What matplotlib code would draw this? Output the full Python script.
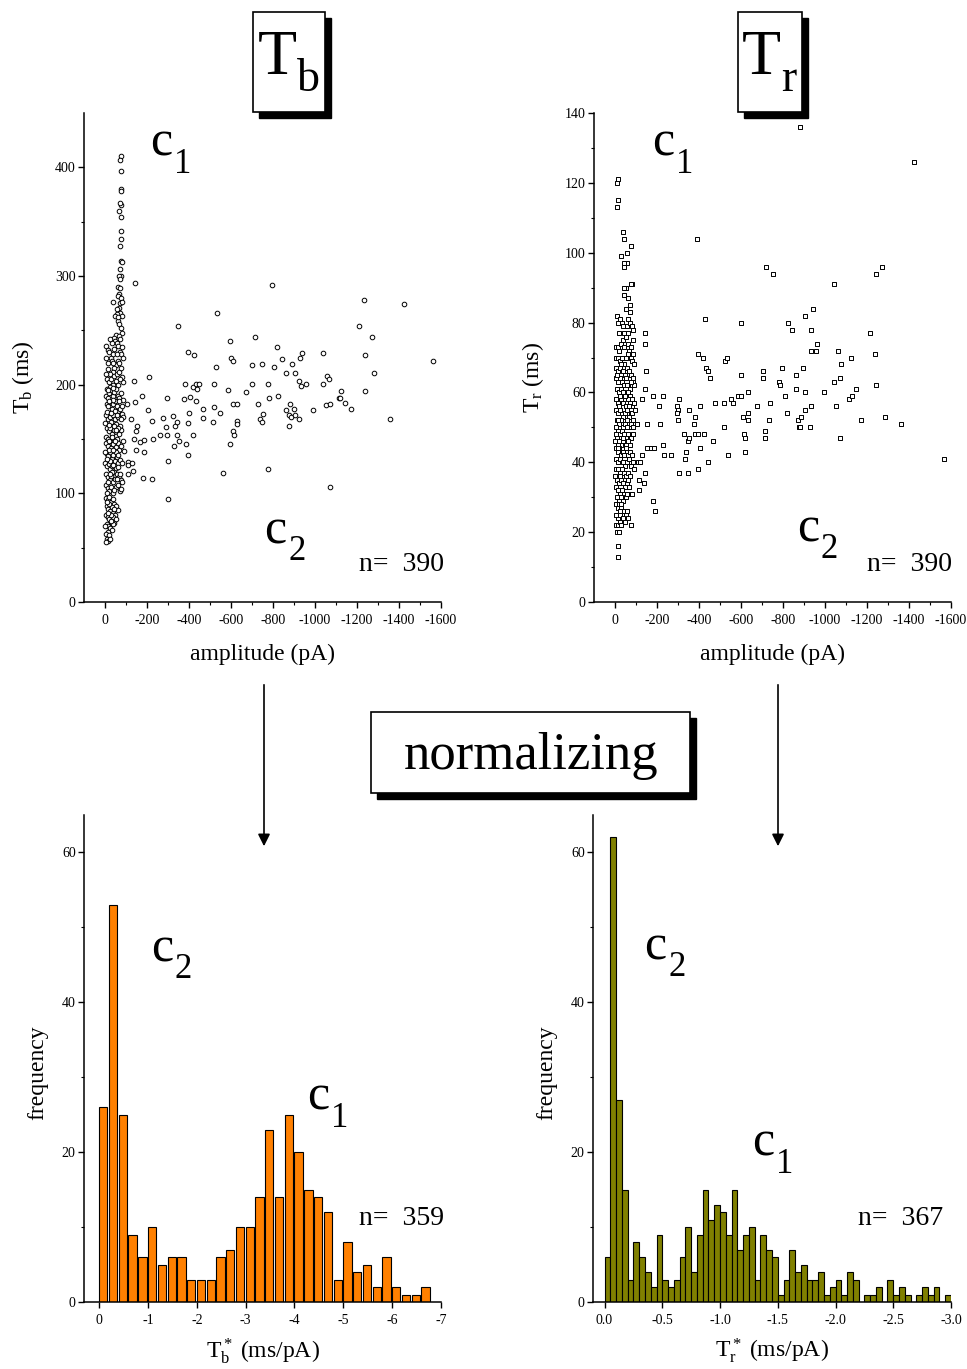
import numpy as np
import matplotlib
matplotlib.use("Agg")
import matplotlib.pyplot as plt
from matplotlib.patches import Rectangle

plt.rcParams['font.family'] = ['Liberation Serif', 'DejaVu Serif']
plt.rcParams['mathtext.fontset'] = 'custom'
plt.rcParams['mathtext.rm'] = 'Liberation Serif'
plt.rcParams['mathtext.it'] = 'Liberation Serif:italic'
plt.rcParams['mathtext.bf'] = 'Liberation Serif:bold'
plt.rcParams['axes.unicode_minus'] = False

# --- T_b vs amplitude (pA, ms) ---
tb_tail = [(-75, 410), (-73, 407), (-74, 397), (-77, 380), (-75, 378), (-78, 365), (-72, 367),
           (-68, 360), (-74, 354), (-75, 341), (-74, 334), (-71, 328), (-76, 314), (-79, 313),
           (-73, 306), (-77, 300), (-68, 300), (-72, 297), (-63, 290), (-72, 289), (-68, 283),
           (-62, 282), (-75, 280), (-70, 275), (-79, 276), (-36, 276), (-68, 271), (-73, 266),
           (-55, 265), (-48, 263), (-80, 263), (-60, 259), (-68, 256), (-75, 252), (-80, 248),
           (-51, 246), (-45, 243), (-62, 262), (-56, 270), (-65, 245)]
tb_upper = [(-7, 236), (-12, 232), (-20, 230), (-28, 225), (-33, 222), (-40, 228), (-48, 240),
            (-55, 238), (-63, 236), (-70, 230), (-78, 228), (-85, 225), (-60, 222), (-52, 218),
            (-44, 215), (-36, 212), (-26, 210), (-15, 214), (-5, 210), (-8, 205), (-18, 202),
            (-30, 205), (-42, 208), (-58, 210), (-66, 212), (-74, 215), (-82, 207), (-88, 202),
            (-50, 203), (-38, 200), (-22, 198), (-10, 196), (-62, 200), (-70, 205), (-45, 233),
            (-35, 238), (-25, 242), (-58, 228), (-80, 235), (-15, 220), (-3, 225), (-65, 220),
            (-72, 242), (-40, 220)]
tb_mid = [(-5, 190), (-12, 188), (-20, 192), (-28, 195), (-36, 190), (-44, 193), (-52, 196),
          (-60, 190), (-68, 188), (-76, 192), (-84, 186), (-8, 182), (-16, 180), (-24, 184),
          (-32, 178), (-40, 182), (-48, 185), (-56, 180), (-64, 176), (-72, 178), (-80, 173),
          (-88, 170), (-4, 172), (-14, 168), (-22, 170), (-30, 166), (-38, 172), (-46, 168),
          (-54, 164), (-62, 170), (-70, 162), (-78, 158), (-10, 160), (-18, 157), (-26, 160),
          (-34, 155), (-42, 158), (-50, 153), (-58, 150), (-66, 155), (-6, 152), (-14, 150),
          (-24, 148), (-32, 152), (-2, 165), (-9, 175), (-40, 197), (-48, 176), (-55, 172),
          (-60, 160), (-20, 163), (-44, 162), (-36, 186), (-28, 174), (-12, 195), (-80, 180),
          (-74, 168), (-66, 185), (-17, 185), (-52, 158)]
tb_low = [(-4, 146), (-12, 144), (-20, 148), (-28, 142), (-36, 145), (-44, 140), (-52, 143),
          (-60, 146), (-68, 140), (-76, 144), (-84, 148), (-8, 136), (-16, 134), (-24, 138),
          (-32, 132), (-40, 135), (-48, 130), (-56, 133), (-64, 128), (-72, 131), (-80, 128),
          (-2, 128), (-10, 125), (-18, 127), (-26, 122), (-34, 125), (-42, 120), (-50, 123),
          (-58, 118), (-66, 115), (-74, 112), (-82, 110), (-6, 118), (-14, 115), (-22, 112),
          (-30, 116), (-38, 110), (-46, 113), (-54, 106), (-62, 108), (-70, 102), (-78, 104),
          (-4, 108), (-12, 105), (-20, 102), (-28, 106), (-36, 100), (-44, 103), (-8, 100),
          (-16, 110), (-26, 130), (-40, 126), (-50, 138), (-32, 120), (-60, 124), (-18, 140),
          (-56, 113), (-2, 138), (-70, 118), (-10, 132), (-46, 148), (-64, 135), (-24, 118),
          (-36, 140)]
tb_bottom = [(-4, 96), (-12, 94), (-20, 97), (-28, 92), (-36, 95), (-44, 90), (-52, 88), (-60, 85),
             (-8, 88), (-16, 86), (-24, 84), (-32, 87), (-40, 82), (-48, 80), (-4, 80), (-12, 78),
             (-20, 76), (-28, 74), (-36, 78), (-44, 73), (-8, 72), (-16, 70), (-24, 68), (-32, 66),
             (-12, 64), (-4, 63), (-20, 62), (-8, 58), (-16, 56), (-6, 55), (-28, 80), (-36, 72),
             (-18, 90), (-50, 76), (-10, 92), (-42, 86), (-2, 70), (-24, 58), (-30, 75), (-14, 82)]
tb_spread = [(-141, 294), (-138, 203), (-141, 184), (-103, 182), (-122, 168), (-175, 190),
             (-151, 162), (-146, 157), (-138, 150), (-146, 140), (-165, 147), (-187, 149),
             (-186, 138), (-92, 139), (-110, 129), (-110, 126), (-127, 128), (-135, 121),
             (-110, 118), (-179, 114), (-225, 113), (-203, 177), (-210, 207), (-222, 167),
             (-230, 150), (-262, 154), (-276, 169), (-294, 188), (-290, 161), (-294, 154),
             (-302, 130), (-302, 95), (-325, 171), (-332, 162), (-343, 166), (-341, 154),
             (-330, 144), (-351, 148), (-348, 254), (-375, 187), (-383, 201), (-387, 145),
             (-394, 135), (-394, 165), (-397, 230), (-403, 189), (-400, 174), (-417, 198),
             (-425, 227), (-417, 154), (-432, 201), (-438, 196), (-448, 201), (-435, 185),
             (-467, 178), (-465, 169), (-517, 201), (-519, 179), (-516, 166), (-530, 216),
             (-535, 266), (-549, 174), (-560, 119), (-586, 195), (-595, 240), (-594, 145),
             (-600, 225), (-611, 222), (-610, 182), (-611, 157), (-613, 154), (-630, 182),
             (-629, 167), (-630, 164), (-671, 193), (-700, 201), (-700, 218), (-714, 244),
             (-727, 182), (-737, 168), (-748, 219), (-749, 166), (-754, 173), (-778, 122),
             (-776, 201), (-781, 188), (-794, 292), (-806, 216), (-819, 235), (-824, 190),
             (-841, 224), (-862, 211), (-860, 177), (-875, 162), (-875, 172), (-881, 182),
             (-886, 170), (-892, 219), (-900, 178), (-903, 211), (-906, 172), (-924, 168),
             (-925, 203), (-929, 225), (-938, 229), (-935, 199), (-956, 201), (-989, 177),
             (-1037, 229), (-1038, 201), (-1051, 181), (-1057, 208), (-1068, 205), (-1071, 182),
             (-1073, 106), (-1114, 188), (-1122, 194), (-1121, 188), (-1143, 183), (-1170, 178),
             (-1210, 254), (-1235, 278), (-1237, 227), (-1237, 194), (-1270, 244), (-1283, 211),
             (-1359, 168), (-1424, 274), (-1563, 222)]

# --- T_r vs amplitude (pA, ms) ---
tr_top = [(-12, 121), (-10, 120), (-14, 115), (-10, 113), (-40, 106), (-45, 104), (-78, 102),
          (-55, 100), (-28, 99), (-55, 97), (-42, 96), (-45, 97), (-80, 91), (-75, 91), (-50, 90),
          (-42, 90), (-62, 87), (-42, 88), (-70, 85), (-50, 84), (-72, 83), (-60, 81), (-10, 82),
          (-15, 80), (-22, 81), (-35, 80), (-40, 79), (-55, 79), (-72, 80), (-82, 79), (-85, 78)]
tr_upper = [(-5, 73), (-12, 73), (-20, 72), (-28, 74), (-36, 75), (-44, 73), (-52, 76), (-60, 74),
            (-68, 72), (-76, 73), (-84, 75), (-4, 70), (-14, 70), (-24, 69), (-34, 70), (-44, 68),
            (-54, 70), (-64, 71), (-74, 70), (-82, 69), (-90, 68), (-6, 67), (-16, 66), (-26, 67),
            (-38, 66), (-48, 65), (-58, 67), (-68, 66), (-78, 65), (-88, 64), (-4, 64), (-12, 63),
            (-22, 64), (-32, 63), (-42, 62), (-52, 64), (-62, 62), (-72, 61), (-84, 63), (-92, 62),
            (-8, 61), (-18, 60), (-28, 61), (-40, 60), (-50, 59), (-60, 60), (-70, 59), (-80, 58),
            (-20, 77), (-44, 77), (-64, 77), (-30, 68), (-10, 65), (-56, 62), (-86, 71), (-36, 60),
            (-76, 63)]
tr_mid = [(-4, 58), (-12, 57), (-20, 56), (-30, 58), (-40, 57), (-50, 56), (-60, 58), (-70, 57),
          (-80, 56), (-90, 57), (-6, 55), (-16, 54), (-26, 55), (-36, 53), (-46, 54), (-56, 55),
          (-66, 53), (-76, 54), (-86, 52), (-8, 52), (-18, 51), (-28, 52), (-38, 50), (-48, 51),
          (-58, 52), (-68, 50), (-78, 51), (-88, 50), (-4, 50), (-14, 49), (-24, 48), (-34, 49),
          (-44, 48), (-54, 47), (-64, 48), (-74, 47), (-84, 48), (-10, 47), (-20, 46), (-30, 45),
          (-40, 46), (-50, 45), (-60, 46), (-70, 45), (-2, 46), (-12, 45), (-26, 59), (-46, 59),
          (-66, 56), (-36, 47), (-56, 50), (-6, 48), (-82, 54), (-16, 52), (-94, 55)]
tr_low = [(-4, 44), (-12, 43), (-20, 44), (-30, 42), (-40, 43), (-50, 44), (-60, 42), (-70, 43),
          (-80, 42), (-6, 41), (-16, 40), (-26, 41), (-36, 40), (-46, 39), (-56, 40), (-66, 41),
          (-76, 39), (-86, 40), (-4, 38), (-12, 38), (-22, 37), (-32, 38), (-42, 37), (-52, 36),
          (-62, 37), (-72, 36), (-2, 36), (-10, 35), (-18, 34), (-28, 35), (-38, 34), (-48, 33),
          (-58, 34), (-68, 33), (-78, 31), (-82, 31), (-4, 33), (-14, 32), (-24, 31), (-34, 32),
          (-44, 31), (-54, 30), (-8, 30), (-20, 29), (-30, 30), (-64, 35), (-90, 38), (-26, 36),
          (-58, 31), (-16, 44), (-42, 42)]
tr_bottom = [(-4, 28), (-12, 27), (-20, 28), (-30, 27), (-40, 26), (-50, 25), (-60, 24), (-8, 25),
             (-16, 24), (-26, 25), (-36, 24), (-46, 23), (-6, 22), (-14, 22), (-22, 23), (-30, 22),
             (-75, 22), (-10, 20), (-18, 20), (-14, 16), (-16, 13), (-40, 29), (-56, 26), (-24, 26),
             (-4, 25), (-30, 28)]
tr_spread = [(-883, 136), (-1426, 126), (-391, 104), (-718, 96), (-750, 94), (-1273, 96),
             (-1241, 94), (-1044, 91), (-428, 81), (-599, 80), (-826, 80), (-843, 78), (-906, 82),
             (-943, 84), (-931, 78), (-963, 74), (-934, 72), (-955, 72), (-1212, 77), (-1239, 71),
             (-1060, 72), (-1075, 68), (-1125, 70), (-143, 77), (-143, 74), (-149, 66), (-143, 61),
             (-396, 71), (-418, 70), (-433, 67), (-441, 66), (-452, 64), (-523, 69), (-534, 70),
             (-602, 65), (-705, 66), (-704, 64), (-797, 67), (-781, 63), (-784, 62), (-864, 65),
             (-895, 67), (-864, 61), (-906, 60), (-994, 60), (-1044, 63), (-1071, 64), (-1146, 61),
             (-1241, 62), (-128, 58), (-179, 59), (-227, 59), (-209, 56), (-304, 58), (-296, 56),
             (-298, 55), (-296, 54), (-353, 55), (-404, 56), (-474, 57), (-518, 57), (-552, 58),
             (-564, 57), (-585, 59), (-599, 59), (-632, 60), (-674, 56), (-739, 57), (-811, 59),
             (-819, 54), (-906, 55), (-935, 56), (-1053, 56), (-1116, 58), (-1128, 59), (-154, 51),
             (-216, 51), (-298, 52), (-382, 53), (-377, 51), (-518, 50), (-611, 53), (-632, 54),
             (-634, 52), (-731, 52), (-870, 52), (-876, 50), (-884, 53), (-881, 50), (-927, 50),
             (-1173, 52), (-1287, 53), (-1363, 51), (-328, 48), (-347, 46), (-353, 47), (-382, 48),
             (-396, 48), (-423, 48), (-469, 46), (-613, 48), (-618, 47), (-713, 49), (-713, 47),
             (-1070, 47), (-151, 44), (-173, 44), (-187, 44), (-228, 45), (-235, 42), (-266, 42),
             (-336, 43), (-333, 41), (-406, 44), (-441, 40), (-540, 42), (-618, 43), (-1567, 41),
             (-306, 37), (-347, 37), (-395, 38), (-182, 29), (-192, 26), (-130, 42), (-111, 40),
             (-120, 40), (-114, 35), (-136, 34), (-143, 37), (-113, 32), (-106, 51)]

# --- normalized histograms ---
tb_norm_bin_width = 0.2
tb_norm_counts = [26, 53, 25, 9, 6, 10, 5, 6, 6, 3, 3, 3, 6, 7, 10, 10, 14, 23, 14, 25,
                  20, 15, 14, 12, 3, 8, 4, 5, 2, 6, 2, 1, 1, 2]
tr_norm_bin_width = 0.05
tr_norm_counts = [6, 62, 27, 15, 3, 8, 6, 4, 2, 9, 3, 2, 3, 6, 10, 4, 9, 15, 11, 13,
                  12, 9, 15, 7, 9, 10, 3, 9, 7, 6, 1, 3, 7, 4, 5, 3, 3, 4, 1, 2,
                  3, 1, 4, 3, 0, 1, 1, 2, 0, 3, 1, 2, 1, 0, 1, 2, 1, 2, 0, 1]

W, H = 967, 1369
fig = plt.figure(figsize=(W / 100, H / 100), dpi=100)


def ax_px(left, right, top, bottom):
    return fig.add_axes([left / W, 1 - bottom / H, (right - left) / W, (bottom - top) / H])


def style(ax):
    for s in ['top', 'right']:
        ax.spines[s].set_visible(False)
    for s in ['left', 'bottom']:
        ax.spines[s].set_linewidth(1.1)
    ax.tick_params(which='major', direction='out', length=4, width=1.0, labelsize=10, pad=2)
    ax.tick_params(axis='x', which='major', pad=5)
    ax.tick_params(which='minor', direction='out', length=2.5, width=0.8)


ax1 = ax_px(84, 441, 113, 602)
ax2 = ax_px(594, 951, 113, 602)
ax3 = ax_px(84, 441, 815, 1302)
ax4 = ax_px(593, 951, 815, 1302)

# scatter plots
tb_all = np.array(tb_tail + tb_upper + tb_mid + tb_low + tb_bottom + tb_spread)
ax1.scatter(tb_all[:, 0], tb_all[:, 1], s=11, marker='o', facecolors='white',
            edgecolors='black', linewidths=0.7, clip_on=False)
tr_all = np.array(tr_top + tr_upper + tr_mid + tr_low + tr_bottom + tr_spread)
ax2.scatter(tr_all[:, 0], tr_all[:, 1], s=10, marker='s', facecolors='white',
            edgecolors='black', linewidths=0.7, clip_on=False)

amp_ticks = np.arange(0, -1601, -200)
for ax, ymax, ystep, ylab in [(ax1, 450, 100, r'T$_\mathrm{b}$ (ms)'),
                              (ax2, 140, 20, r'T$_\mathrm{r}$ (ms)')]:
    style(ax)
    ax.set_xlim(100, -1600)
    ax.set_ylim(0, ymax)
    ax.set_xticks(amp_ticks, labels=[f"{v:g}" for v in amp_ticks])
    ax.set_xticks(np.arange(-100, -1601, -200), minor=True)
    yt = np.arange(0, ymax + 1, ystep)
    ax.set_yticks(yt, labels=[f"{v:g}" for v in yt])
    ax.set_yticks(np.arange(ystep / 2, ymax, ystep), minor=True)
    ax.set_xlabel('amplitude (pA)', fontsize=17)
    ax.xaxis.set_label_coords(0.5, -0.085)
    ax.set_ylabel(ylab, fontsize=17)
    ax.yaxis.set_label_coords(-0.135, 0.46)

# histograms
tb_edges = -tb_norm_bin_width * np.arange(len(tb_norm_counts))
ax3.bar(tb_edges, tb_norm_counts, width=-0.17, align='edge', color='#ff8000',
        edgecolor='black', linewidth=0.8)
tr_edges = -tr_norm_bin_width * np.arange(len(tr_norm_counts))
ax4.bar(tr_edges, tr_norm_counts, width=-tr_norm_bin_width, align='edge', color='#808000',
        edgecolor='black', linewidth=0.8)

hist_y = np.arange(0, 61, 20)
style(ax3)
ax3.set_xlim(0.31, -7)
ax3.set_ylim(0, 65)
tb_x = np.arange(0, -8, -1)
ax3.set_xticks(tb_x, labels=[f"{v:g}" for v in tb_x])
ax3.set_xlabel(r'T$_\mathrm{b}^*$ (ms/pA)', fontsize=17)

style(ax4)
ax4.set_xlim(0.1, -3.0)
ax4.set_ylim(0, 65)
tr_x = np.arange(0, -3.01, -0.5)
ax4.set_xticks(tr_x, labels=[f"{v:.1f}" for v in tr_x])
ax4.set_xlabel(r'T$_\mathrm{r}^*$ (ms/pA)', fontsize=17)

for ax in (ax3, ax4):
    ax.set_yticks(hist_y, labels=[f"{v:g}" for v in hist_y])
    ax.set_yticks(np.arange(10, 61, 20), minor=True)
    ax.xaxis.set_label_coords(0.5, -0.07)
    ax.set_ylabel('frequency', fontsize=17)
    ax.yaxis.set_label_coords(-0.1, 0.47)

# overlay in pixel coordinates for boxes, arrows and annotations
ov = fig.add_axes([0, 0, 1, 1], zorder=10)
ov.set_xlim(0, W)
ov.set_ylim(H, 0)
ov.axis('off')
ov.patch.set_visible(False)


def shadow_box(x0, y0, x1, y1):
    ov.add_patch(Rectangle((x0 + 6, y0 + 6), x1 - x0, y1 - y0, facecolor='black', edgecolor='black'))
    ov.add_patch(Rectangle((x0, y0), x1 - x0, y1 - y0, facecolor='white', edgecolor='black', lw=1.2))


def sub_label(x, y, main, sub, size, sub_size, dx, dy):
    ov.text(x, y, main, fontsize=size, ha='left', va='baseline')
    ov.text(x + dx, y + dy, sub, fontsize=sub_size, ha='left', va='baseline')


shadow_box(253, 12, 325, 112)
sub_label(258, 74, 'T', 'b', 46, 33, 39, 17)
shadow_box(738, 12, 802, 112)
sub_label(742, 74, 'T', 'r', 46, 33, 39, 17)
shadow_box(371, 712, 690, 793)
ov.text(531, 769, 'normalizing', fontsize=38, ha='center', va='baseline')

for x in (264, 778):
    ov.annotate('', xy=(x, 849), xytext=(x, 682),
                arrowprops=dict(arrowstyle='-|>', color='black', lw=1.2, mutation_scale=18))

for x, y, s in [(150, 156, '1'), (264, 543, '2'),
                (652, 156, '1'), (797, 541, '2'),
                (151, 961, '2'), (307, 1110, '1'),
                (644, 959, '2'), (752, 1156, '1')]:
    sub_label(x, y, 'c', s, 36, 25, 24, 17)

for x, y, t in [(359, 571, 'n=  390'), (867, 571, 'n=  390'),
                (359, 1225, 'n=  359'), (858, 1225, 'n=  367')]:
    ov.text(x, y, t, fontsize=20, ha='left', va='baseline')

fig.savefig('out.png', dpi=100)
